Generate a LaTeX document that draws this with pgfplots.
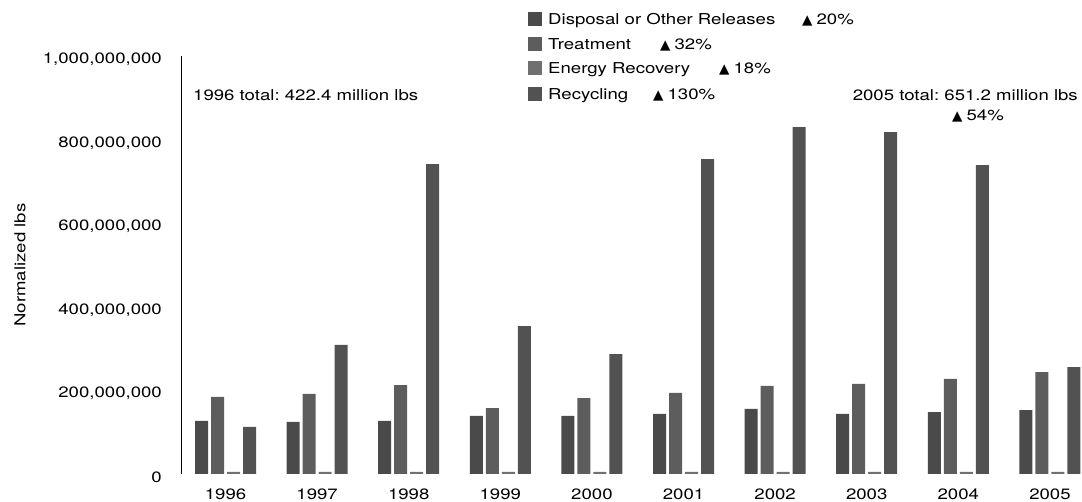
\documentclass[border=0pt]{standalone}
\usepackage{fontspec}
\setmainfont[FakeStretch=1.24]{TeX Gyre Heros}
\newfontfamily\symfont{DejaVu Sans}
\usepackage{pgfplots}
\usepackage{pgfplotstable}
\pgfplotsset{compat=1.18}

\definecolor{cDisp}{HTML}{4A4A4A}
\definecolor{cTreat}{HTML}{5D5D5D}
\definecolor{cEnergy}{HTML}{707070}
\definecolor{cRecyc}{HTML}{525252}

% normalized lbs, in millions; x = 0 is 1996
\pgfplotstableread{
x  disp treat energy recyc
0  127  185   5      113
1  125  192   5      309
2  127  213   5      742
3  139  158   5      354
4  139  182   5      287
5  144  194   5      754
6  156  211   5      831
7  144  216   5      819
8  148  228   5      740
9  153  244   5      256
}\releases

\newcommand{\up}{{\symfont\fontsize{13.5}{13.5}\selectfont ▲}}

\begin{document}
\frenchspacing
\begin{tikzpicture}[font=\fontsize{15}{18}\selectfont]
\useasboundingbox (-181pt,-28pt) rectangle (901pt,474pt);
\begin{axis}[
  scale only axis, width=901pt, height=417.5pt,
  xmin=-0.486, xmax=9.35, ymin=0, ymax=1000,
  enlargelimits=false,
  ybar=3pt, bar width=13pt,
  axis x line*=bottom, axis y line*=left,
  x axis line style={draw=none},
  y axis line style={-, line width=0.8pt},
  major tick length=0pt, tick style={draw=none},
  xtick={0,...,9},
  xticklabels={1996,1997,1998,1999,2000,2001,2002,2003,2004,2005},
  ytick={0,200,400,600,800,1000},
  yticklabels={0,{200,000,000},{400,000,000},{600,000,000},{800,000,000},{1,000,000,000}},
  yticklabel style={anchor=east, inner sep=0pt, xshift=-19pt, yshift=-3pt},
  xticklabel style={anchor=north, inner sep=0pt, yshift=-14.5pt},
  every axis plot/.append style={draw=none},
]
\addplot[fill=cDisp] table[x=x, y=disp] {\releases};
\addplot[fill=cTreat] table[x=x, y=treat] {\releases};
\addplot[fill=cEnergy] table[x=x, y=energy] {\releases};
\addplot[fill=cRecyc] table[x=x, y=recyc] {\releases};
\end{axis}

% y label
\node[rotate=90] at (-161pt,209pt) {Normalized lbs};

% legend
\fill[cDisp]   (347pt,447.5pt) rectangle (361pt,461.5pt);
\fill[cTreat]  (347pt,423.3pt) rectangle (361pt,437.3pt);
\fill[cEnergy] (347pt,399pt)   rectangle (361pt,413pt);
\fill[cRecyc]  (347pt,373pt)   rectangle (361pt,387pt);
\node[anchor=base west, inner sep=0pt] at (367pt,449.1pt) {Disposal or Other Releases};
\node[anchor=base west, inner sep=0pt] at (367pt,424.9pt) {Treatment};
\node[anchor=base west, inner sep=0pt] at (367pt,400.6pt) {Energy Recovery};
\node[anchor=base west, inner sep=0pt] at (367pt,374.6pt) {Recycling};
\node[anchor=base west, inner sep=0pt] at (621pt,449.1pt) {\up\hspace{4pt}20\%};
\node[anchor=base west, inner sep=0pt] at (479pt,424.9pt) {\up\hspace{4pt}32\%};
\node[anchor=base west, inner sep=0pt] at (538pt,400.6pt) {\up\hspace{4pt}18\%};
\node[anchor=base west, inner sep=0pt] at (472pt,374.6pt) {\up\hspace{4pt}130\%};

% totals
\node[anchor=base west, inner sep=0pt] at (12pt,373.6pt) {1996 total: 422.4 million lbs};
\node[anchor=base east, inner sep=0pt] at (897pt,373.6pt) {2005 total: 651.2 million lbs};
\node[anchor=base west, inner sep=0pt] at (771pt,353.6pt) {\up\hspace{4pt}54\%};
\end{tikzpicture}
\end{document}
